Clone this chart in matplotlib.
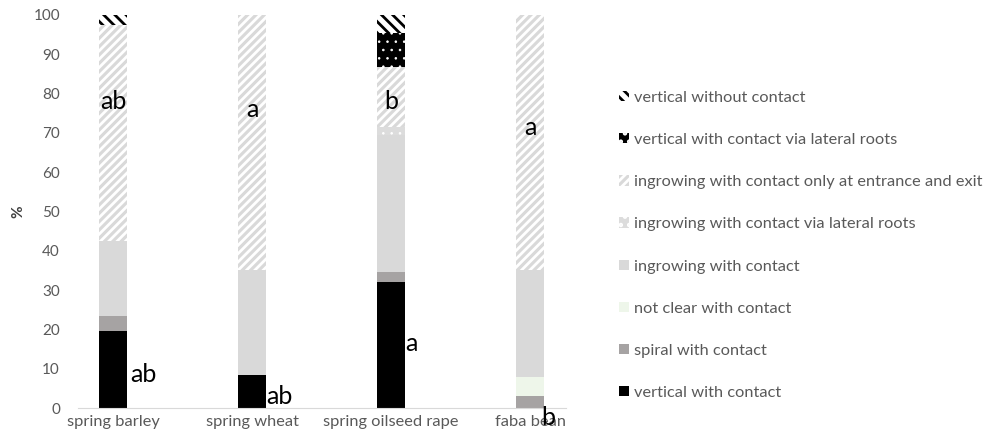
import matplotlib
matplotlib.use("Agg")
import matplotlib.pyplot as plt
from matplotlib.patches import Patch
import numpy as np

plt.rcParams['font.family'] = ['Lato', 'DejaVu Sans']
plt.rcParams['hatch.linewidth'] = 2.0

categories = ["spring barley", "spring wheat", "spring oilseed rape", "faba bean"]

# stacked from bottom to top
vertical_contact = [19.5, 8.5, 32.0, 0.0]
spiral_contact = [3.8, 0.0, 2.5, 3.0]
not_clear_contact = [0.0, 0.0, 0.0, 5.0]
ingrowing_contact = [19.3, 26.5, 35.0, 27.0]
ingrowing_lateral = [0.0, 0.0, 2.0, 0.0]
ingrowing_entrance_exit = [54.9, 65.0, 15.3, 65.0]
vertical_lateral = [0.0, 0.0, 8.7, 0.0]
vertical_no_contact = [2.5, 0.0, 4.5, 0.0]

letters_top = ["ab", "a", "b", "a"]
letters_bottom = ["ab", "ab", "a", "b"]

# label, values, face, hatch, hatch colour, hatch width
series = [
    ("vertical with contact", vertical_contact, "black", None, "black", 2.0),
    ("spiral with contact", spiral_contact, "#a6a3a3", None, "#a6a3a3", 2.0),
    ("not clear with contact", not_clear_contact, "#eef6ea", None, "#eef6ea", 2.0),
    ("ingrowing with contact", ingrowing_contact, "#d9d9d9", None, "#d9d9d9", 2.0),
    ("ingrowing with contact via lateral roots", ingrowing_lateral, "#dcdcdc", "..", "white", 0.6),
    ("ingrowing with contact only at entrance and exit", ingrowing_entrance_exit, "#d9d9d9", "////", "white", 2.0),
    ("vertical with contact via lateral roots", vertical_lateral, "black", "..", "white", 0.6),
    ("vertical without contact", vertical_no_contact, "white", "\\\\\\", "black", 2.0),
]

fig = plt.figure(figsize=(10.02, 4.44), dpi=100)
ax = fig.add_axes([78 / 1002, 36 / 444, 488 / 1002, 393 / 444])

x = np.arange(len(categories))
bottom = np.zeros(len(categories))
handles = []
for label, vals, fc, hatch, ec, hw in series:
    vals = np.array(vals)
    bars = ax.bar(x, vals, 0.2, bottom=bottom, color=fc, hatch=hatch,
                  edgecolor=ec, linewidth=0)
    h = Patch(facecolor=fc, hatch=hatch, edgecolor=ec, linewidth=0, label=label)
    try:
        for b in bars:
            b.set_hatch_linewidth(hw)
        h.set_hatch_linewidth(hw)
    except AttributeError:
        pass
    bottom += vals
    handles.append(h)

ax.set_xlim(-0.252, 3.259)
ax.set_ylim(0, 100)
ax.set_yticks(range(0, 101, 10))
ax.set_xticks(x)
ax.set_xticklabels(categories, fontsize=11.8)
ax.tick_params(colors="#595959", length=0)
ax.tick_params(axis="y", labelsize=11, pad=13)
ax.tick_params(axis="x", pad=5)
for s in ["top", "right", "left"]:
    ax.spines[s].set_visible(False)
ax.spines["bottom"].set_color("#d9d9d9")
ax.set_ylabel("%", color="#404040", fontsize=11, fontweight="bold")
ax.yaxis.set_label_coords(-0.107, 0.5)

# significance letters
top_y = [78, 76, 78, 71.5]
for i, t in enumerate(letters_top):
    ax.text(x[i], top_y[i], t, ha="center", va="center", fontsize=18, color="black")
bot_pos = [(0.22, 8.5), (0.2, 3.0), (0.15, 16.5), (0.13, -2.5)]
for i, t in enumerate(letters_bottom):
    dx, yy = bot_pos[i]
    ax.text(x[i] + dx, yy, t, ha="center", va="center", fontsize=18,
            color="black", clip_on=False)

fig.legend(handles=handles[::-1], loc="upper left",
           bbox_to_anchor=(604 / 1002, 1 - 76 / 444), frameon=False,
           fontsize=11.8, labelcolor="#595959", handlelength=0.6,
           handleheight=0.6, handletextpad=0.3, labelspacing=1.72)

fig.savefig("out.png", dpi=100)
